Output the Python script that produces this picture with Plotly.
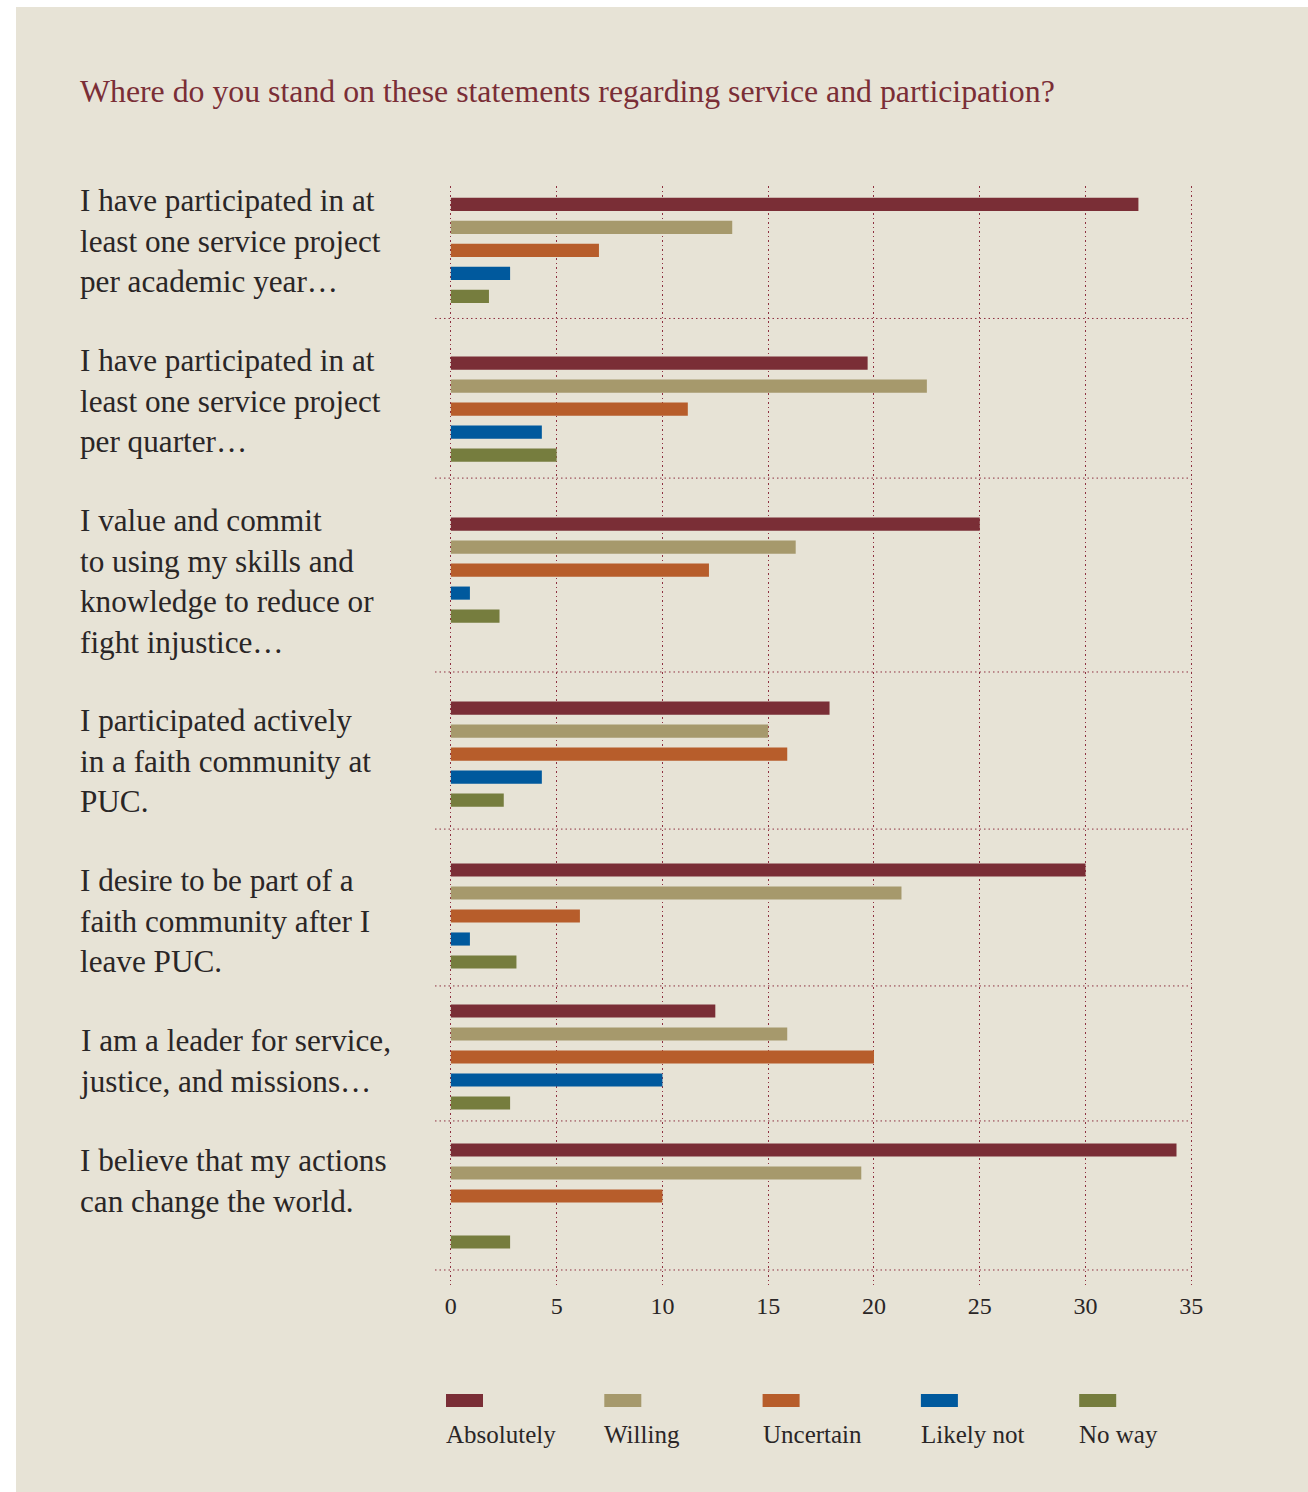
import plotly.graph_objects as go

# ---- data -------------------------------------------------------------
questions = [
    "I have participated in at<br>least one service project<br>per academic year…",
    "I have participated in at<br>least one service project<br>per quarter…",
    "I value and commit<br>to using my skills and<br>knowledge to reduce or<br>fight injustice…",
    "I participated actively<br>in a faith community at<br>PUC.",
    "I desire to be part of a<br>faith community after I<br>leave PUC.",
    "I am a leader for service,<br>justice, and missions…",
    "I believe that my actions<br>can change the world.",
]
series = ["Absolutely", "Willing", "Uncertain", "Likely not", "No way"]
absolutely = [32.5, 19.7, 25.0, 17.9, 30.0, 12.5, 34.3]
willing = [13.3, 22.5, 16.3, 15.0, 21.3, 15.9, 19.4]
uncertain = [7.0, 11.2, 12.2, 15.9, 6.1, 20.0, 10.0]
likely_not = [2.8, 4.3, 0.9, 4.3, 0.9, 10.0, 0.0]
no_way = [1.8, 5.0, 2.3, 2.5, 3.1, 2.8, 2.8]
x_ticks = [0, 5, 10, 15, 20, 25, 30, 35]

values = [absolutely, willing, uncertain, likely_not, no_way]
colors = ["#7a2e36", "#a6996c", "#b75d2b", "#00599d", "#767d3e"]

# ---- page geometry ----------------------------------------------------
W, H = 1308, 1492
ML, MR, MT, MB = 435, 115, 186, 207
PW = W - ML - MR
PH = H - MT - MB
PITCH = 23.0  # pixels per bar slot on the y axis


def px_x(x):
    return (x - ML) / PW


def px_y(y):
    return 1 - (y - MT) / PH


# slot of the first bar in each question panel, and panel dividers
panel_first = [0.80, 7.70, 14.70, 22.70, 29.74, 35.87, 41.91]
panel_divider = [5.76, 12.70, 21.13, 27.96, 34.78, 40.65, 47.13]

BG = "#e7e3d6"
GRID = "#8e3040"
TEXT = "#2a2626"
TITLE = "#7a2e36"
SERIF = "Liberation Serif, Times New Roman, serif"

fig = go.Figure()

for k, (name, vals, col) in enumerate(zip(series, values, colors)):
    fig.add_trace(go.Bar(
        x=vals,
        y=[p + k for p in panel_first],
        orientation="h",
        name=name,
        width=0.57,
        marker=dict(color=col, line=dict(width=0)),
        showlegend=False,
    ))

shapes = [
    # beige card
    dict(type="rect", xref="paper", yref="paper",
         x0=px_x(16), x1=px_x(W + 5), y0=px_y(7), y1=px_y(H + 5),
         fillcolor=BG, line=dict(width=0), layer="below"),
]
for d in panel_divider:
    shapes.append(dict(type="line", xref="x", yref="y",
                       x0=-0.75, x1=35, y0=d, y1=d,
                       line=dict(color=GRID, width=1, dash="1.5px,3px"),
                       layer="below"))

annotations = [
    dict(text="Where do you stand on these statements regarding service and participation?",
         xref="paper", yref="paper", x=px_x(78), y=px_y(72),
         xanchor="left", yanchor="top", showarrow=False,
         font=dict(family=SERIF, size=31.8, color=TITLE)),
]

# question labels laid out on a shared 40px line grid
line_idx = 0
for q in questions:
    annotations.append(dict(
        text=q, xref="paper", yref="paper",
        x=px_x(78), y=px_y(181 + 40 * line_idx),
        xanchor="left", yanchor="top", align="left", showarrow=False,
        font=dict(family=SERIF, size=31.2, color=TEXT)))
    line_idx += q.count("<br>") + 2

# legend: swatch above each label
LEG_X0, LEG_STEP = 446, 158.3
for k, (name, col) in enumerate(zip(series, colors)):
    x0 = LEG_X0 + k * LEG_STEP
    shapes.append(dict(type="rect", xref="paper", yref="paper",
                       x0=px_x(x0), x1=px_x(x0 + 37),
                       y0=px_y(1407), y1=px_y(1394),
                       fillcolor=col, line=dict(width=0)))
    annotations.append(dict(text=name, xref="paper", yref="paper",
                            x=px_x(x0 - 2), y=px_y(1419),
                            xanchor="left", yanchor="top", showarrow=False,
                            font=dict(family=SERIF, size=25, color=TEXT)))

fig.update_layout(
    width=W, height=H,
    margin=dict(l=ML, r=MR, t=MT, b=MB),
    paper_bgcolor="white",
    plot_bgcolor="rgba(0,0,0,0)",
    barmode="overlay",
    shapes=shapes,
    annotations=annotations,
    xaxis=dict(range=[-0.75, 35.08], tickvals=x_ticks, showgrid=True,
               gridcolor=GRID, gridwidth=1, griddash="1.5px,3px",
               zeroline=False, showline=False, ticks="",
               ticklabelstandoff=4,
               tickfont=dict(family=SERIF, size=24, color=TEXT)),
    yaxis=dict(range=[PH / PITCH, 0], showgrid=False, zeroline=False,
               showline=False, showticklabels=False, ticks=""),
)

fig.write_html("out.html")
